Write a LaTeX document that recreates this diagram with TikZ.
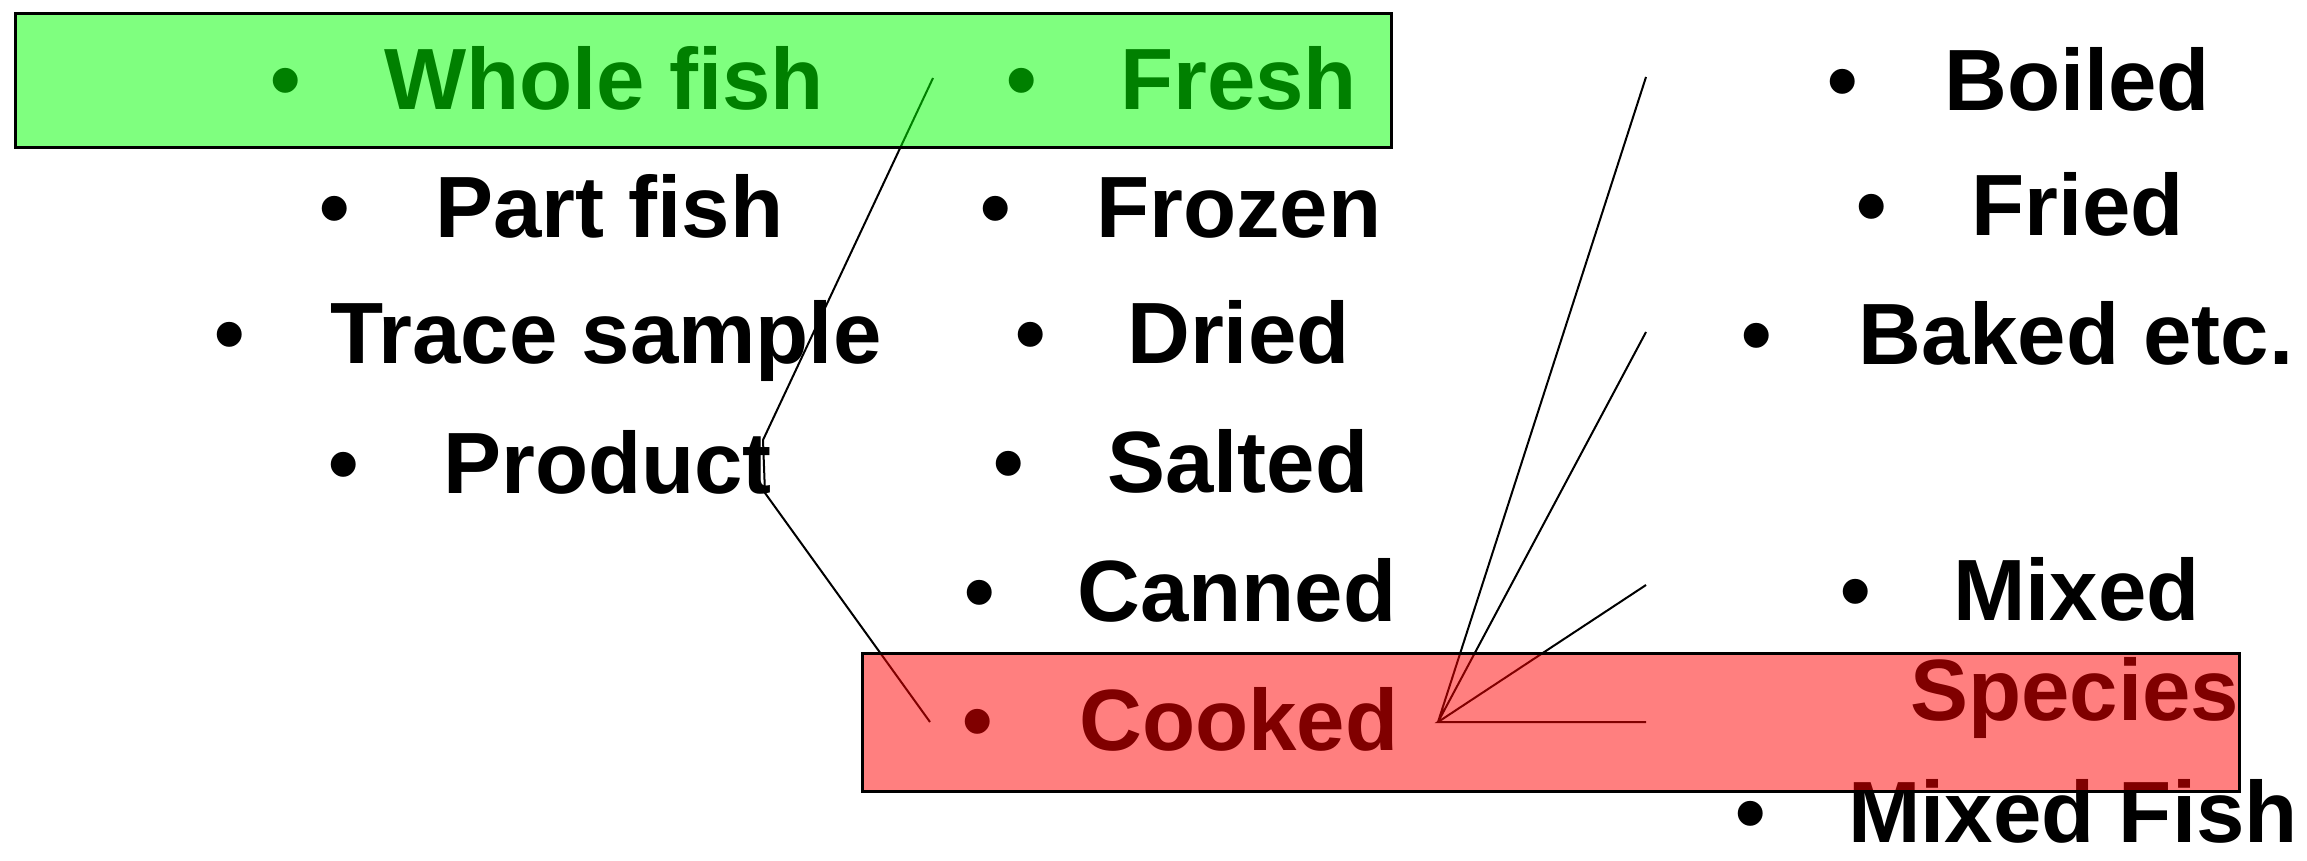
\documentclass[tikz,border=0pt]{standalone}
\usepackage{fontspec}
\setmainfont{Liberation Sans}
\begin{document}
\begin{tikzpicture}[x=1pt,y=-1pt,
  item/.style={anchor=base west,inner sep=0pt,font=\fontsize{87}{100}\selectfont\bfseries},
  dot/.style={anchor=base,inner sep=0pt,font=\fontsize{87}{100}\selectfont\bfseries},
  link/.style={line width=2pt,black},
  greenhl/.style={fill=green,fill opacity=0.5,draw=black,line width=3pt},
  redhl/.style={fill=red,fill opacity=0.5,draw=black,line width=3pt}]
\useasboundingbox (0,0) rectangle (2307,861);
\fill[white] (0,0) rectangle (2307,861);

% left column: sample type
\node[dot] (b1) at (286,110) {•};  \node[item] (whole) at (384,110) {Whole fish};
\node[dot] (b2) at (335,237) {•};  \node[item] (part) at (435,237) {Part fish};
\node[dot] (b3) at (230,363) {•};  \node[item] (trace) at (330,363) {Trace sample};
\node[dot] (b4) at (344,493) {•};  \node[item] (product) at (443,493) {Product};

% middle column: state
\node[dot] (b5) at (1022,110) {•}; \node[item] (fresh) at (1120,110) {Fresh};
\node[dot] (b6) at (996,237) {•};  \node[item] (frozen) at (1096,237) {Frozen};
\node[dot] (b7) at (1031,363) {•}; \node[item] (dried) at (1127,363) {Dried};
\node[dot] (b8) at (1009,492) {•}; \node[item] (salted) at (1107,492) {Salted};
\node[dot] (b9) at (980,621) {•};  \node[item] (canned) at (1077,621) {Canned};
\node[dot] (b10) at (978,750) {•}; \node[item] (cooked) at (1079,750) {Cooked};

% right column: cooking method and mixtures
\node[dot] (b11) at (1843,111) {•}; \node[item] (boiled) at (1944,111) {Boiled};
\node[dot] (b12) at (1872,236) {•}; \node[item] (fried) at (1971,236) {Fried};
\node[dot] (b13) at (1757,364) {•}; \node[item] (baked) at (1858,364) {Baked etc.};
\node[dot] (b14) at (1856,620) {•}; \node[item] (mixed) at (1953,620) {Mixed};
\node[item] (species) at (1910,720) {Species};
\node[dot] (b15) at (1751,842) {•};
\node[item] (mixedfish) at (1848,842) {Mixed Fish};

% connector from the first column down to the cooked item
\coordinate (a1) at (933,78);
\coordinate (a2) at (763,440);
\coordinate (a3) at (765,493);
\coordinate (a4) at (930,722);
\draw[link] (a1) -- (a2) -- (a3) -- (a4);

% fan from cooked to the cooking methods
\coordinate (hub) at (1438,722);
\coordinate (f1) at (1646,77);
\coordinate (f2) at (1646,332);
\coordinate (f3) at (1646,585);
\coordinate (f4) at (1646,722);
\draw[link] (f1) -- (hub) -- (f2);
\draw[link] (f3) -- (hub) -- (f4);

% translucent highlight bands
\draw[greenhl] (15,14) rectangle (1391,148);
\draw[redhl] (862,653) rectangle (2239,791);
\end{tikzpicture}
\end{document}
